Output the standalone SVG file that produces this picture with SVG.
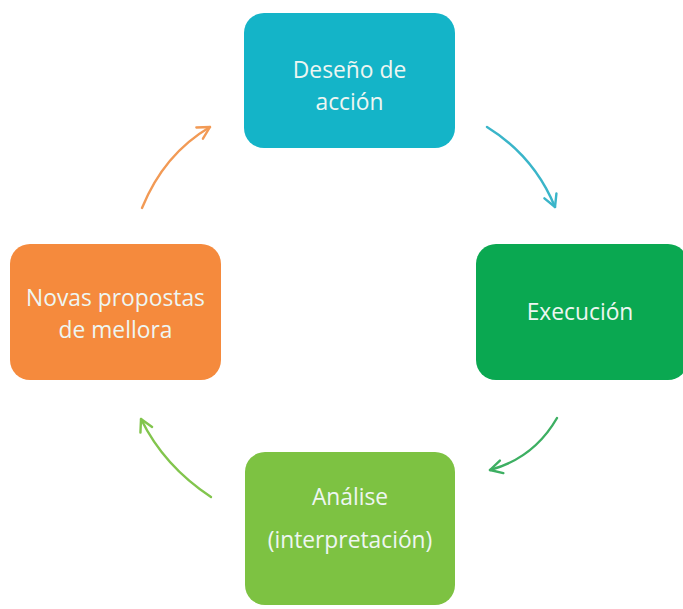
<svg xmlns="http://www.w3.org/2000/svg" width="683" height="609" viewBox="0 0 683 609">
<style>
.box{stroke:none}
.lbl{font-family:"Open Sans","Liberation Sans",sans-serif;font-size:22.8px;fill:#eef6f2;text-anchor:middle}
.arr{fill:none;stroke-width:2.4;stroke-linecap:round}
</style>
<defs>
<marker id="mc" viewBox="0 0 16 16" refX="14" refY="8" markerWidth="16" markerHeight="16" markerUnits="userSpaceOnUse" orient="auto"><path d="M2,1.5 L14,8 L2,14.5" fill="none" stroke="#3ab5c9" stroke-width="2.4" stroke-linecap="round" stroke-linejoin="round"/></marker>
<marker id="mg" viewBox="0 0 16 16" refX="14" refY="8" markerWidth="16" markerHeight="16" markerUnits="userSpaceOnUse" orient="auto"><path d="M2,1.5 L14,8 L2,14.5" fill="none" stroke="#3daf62" stroke-width="2.4" stroke-linecap="round" stroke-linejoin="round"/></marker>
<marker id="ml" viewBox="0 0 16 16" refX="14" refY="8" markerWidth="16" markerHeight="16" markerUnits="userSpaceOnUse" orient="auto"><path d="M2,1.5 L14,8 L2,14.5" fill="none" stroke="#82c54d" stroke-width="2.4" stroke-linecap="round" stroke-linejoin="round"/></marker>
<marker id="mo" viewBox="0 0 16 16" refX="14" refY="8" markerWidth="16" markerHeight="16" markerUnits="userSpaceOnUse" orient="auto"><path d="M2,1.5 L14,8 L2,14.5" fill="none" stroke="#f29a55" stroke-width="2.4" stroke-linecap="round" stroke-linejoin="round"/></marker>
</defs>
<rect width="683" height="609" fill="#ffffff"/>
<g id="connectors">
<path class="arr" d="M487,127 Q534,156 555,207" stroke="#3ab5c9" marker-end="url(#mc)"/>
<path class="arr" d="M557,418 Q534,458 490,470" stroke="#3daf62" marker-end="url(#mg)"/>
<path class="arr" d="M211,497 Q164,466 141,419" stroke="#82c54d" marker-end="url(#ml)"/>
<path class="arr" d="M142,208 Q164,154 210,127" stroke="#f29a55" marker-end="url(#mo)"/>
</g>
<g id="node-design">
<rect class="box" x="244" y="13" width="211" height="135" rx="20" fill="#14b4c8"/>
<text class="lbl" x="349.5" y="78">Deseño de</text>
<text class="lbl" x="349.5" y="110">acción</text>
</g>
<g id="node-execution">
<rect class="box" x="476" y="244" width="212" height="136" rx="20" fill="#0aa851"/>
<text class="lbl" x="580" y="320">Execución</text>
</g>
<g id="node-analysis">
<rect class="box" x="245" y="452" width="210" height="153" rx="20" fill="#7dc242"/>
<text class="lbl" x="350" y="505">Análise</text>
<text class="lbl" x="350" y="548">(interpretación)</text>
</g>
<g id="node-proposals">
<rect class="box" x="10" y="244" width="211" height="136" rx="20" fill="#f58a3d"/>
<text class="lbl" x="115.5" y="306">Novas propostas</text>
<text class="lbl" x="115.5" y="338">de mellora</text>
</g>
</svg>
